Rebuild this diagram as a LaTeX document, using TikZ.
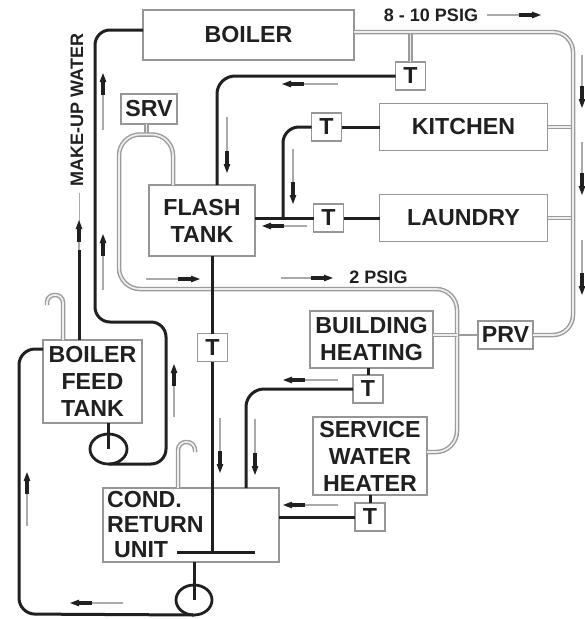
\documentclass[tikz,border=0pt]{standalone}
\usepackage{fontspec}
\usepackage{tikz}
\usepackage{xcolor}
\setmainfont{Liberation Sans}
\usetikzlibrary{shapes.geometric, arrows.meta, positioning}
\definecolor{cInk}{RGB}{32,32,32}
\definecolor{cEdge}{RGB}{150,150,150}
\definecolor{cSteam}{RGB}{155,155,155}
\definecolor{cCore}{RGB}{238,238,238}
\definecolor{cFlow}{RGB}{170,170,170}
\tikzset{
	unitbox/.style={rectangle, draw=cEdge, line width=1.4pt, fill=white, inner sep=0pt, outer sep=0pt, align=center, text=cInk},
	tbox/.style   ={unitbox, minimum width=30pt, minimum height=28pt},
	pumpc/.style  ={ellipse, draw=cInk, line width=2.8pt, inner sep=0pt, outer sep=0pt},
	% pipe styles
	water/.style  ={draw=cInk, line width=3pt},
	steam/.style  ={draw=cSteam, double=cCore, double distance=1.7pt, line width=1.4pt},
	flowback/.style={draw=cFlow, line width=1.2pt},
	flow/.style   ={flowback, -{Rectangle[length=13pt, width=4pt, color=cInk]Stealth[length=9pt, width=6.5pt, inset=0pt, color=cInk]}},
	plabel/.style ={text=cInk, font=\fontsize{18}{20}\selectfont\bfseries},
}
\begin{document}
\begin{tikzpicture}[x=1pt, y=-1pt, every node/.style={font=\fontsize{23.2}{27}\selectfont\bfseries}]
			\useasboundingbox (0,0) rectangle (585,619);
			\node[unitbox, minimum width=211pt, minimum height=50pt] (boiler) at (248.5,35) {BOILER};
			\node[unitbox, minimum width=56pt, minimum height=30pt] (srv) at (149,109) {SRV};
			\node[unitbox, minimum width=106pt, minimum height=71pt] (flash) at (202,220.5) {FLASH\\TANK};
			\node[tbox] (ttop) at (410.5,76) {T};
			\node[tbox] (tkitchen) at (326.5,127) {T};
			\node[unitbox, right=38pt of tkitchen, minimum width=168pt, minimum height=47pt] (kitchen) {KITCHEN};
			\node[tbox] (tlaundry) at (328.5,218) {T};
			\node[unitbox, right=36pt of tlaundry, minimum width=168pt, minimum height=47pt] (laundry) {LAUNDRY};
			\node[unitbox, minimum width=123pt, minimum height=57pt] (building) at (371.5,339.5) {BUILDING\\HEATING};
			\node[tbox, below=7pt of building, xshift=-3.5pt] (tbuilding) {T};
			\node[unitbox, minimum width=114pt, minimum height=78pt] (service) at (370,456) {SERVICE\\WATER\\HEATER};
			\node[tbox, below=8pt of service] (tservice) {T};
			\node[unitbox, minimum width=55pt, minimum height=28pt] (prv) at (505.5,335) {PRV};
			\node[tbox] (tmain) at (212.5,347.5) {T};
			\node[unitbox, minimum width=99pt, minimum height=83pt] (feed) at (92.5,381.5) {BOILER\\FEED\\TANK};
			\node[unitbox, minimum width=176pt, minimum height=74pt, text width=168pt, align=left, font=\fontsize{23.2}{25}\selectfont\bfseries] (cond) at (191,525) {COND.\\RETURN\\\hspace*{7pt}UNIT};
			\node[pumpc, minimum width=37pt, minimum height=30pt] (pumpf) at (108.5,449) {};
			\node[pumpc, minimum width=36pt, minimum height=30pt] (pumpc) at (194,600) {};
			\node[plabel] (hp) at (431,15) {8 - 10 PSIG};
			\node[plabel] (lp) at (378.5,277) {2 PSIG};
			\node[plabel, rotate=90] (mu) at (77,110) {MAKE-UP WATER};
			\coordinate (mw) at (79.5,250);
			\coordinate (cross) at (457,335);
			% steam and vents
			\draw[steam] (ttop.north) -- (ttop.north |- 0,32);
			\draw[steam] (kitchen.east) -- (573,127); \draw[steam] (laundry.east) -- (573,218);
			\draw[steam, rounded corners=20pt] (354,32) -- (573,32) -- (573,335) -- (prv.east);
			\draw[cSteam, line width=2pt] (prv.west) -- (cross);
			\draw[steam] (srv.south -| 146.5,0) -- (146.5,134);
			\draw[steam, rounded corners=21pt] (173,185) -- (173,134.5) -- (119,134.5) -- (119,289) -- (457,289) -- (457,452) -- (service.east |- 0,452);
			\draw[steam] (building.east |- cross) -- (cross);
			\draw[steam, rounded corners=7.5pt] (63,340) -- (63,295) -- (47,295) -- (47,305);
			\draw[steam, rounded corners=8pt] (178,488) -- (178,442) -- (195,442) -- (195,452);
			% water and condensate
			\draw[water, rounded corners=15pt] (boiler.west |- 0,30) -- (95,30) -- (95,322) -- (166,322) -- (166,464) -- (pumpf.south);
			\draw[water] (mw) -- (mw |- feed.north);
			\draw[water, rounded corners=16pt] (feed.west |- 0,349) -- (19,349) -- (19,614) -- (pumpc.south);
			\draw[water] (feed.south -| pumpf) -- (pumpf.center); \draw[water] (cond.south -| pumpc) -- (pumpc.center);
			\draw[water, rounded corners=18pt] (ttop.west) -- (217,76) -- (217,185);
			\draw[water, rounded corners=16pt] (tkitchen.west) -- (283,127) -- (283,218);
			\draw[water] (tkitchen.east) -- (kitchen.west); \draw[water] (tlaundry.east) -- (laundry.west);
			\draw[water] (flash.east |- tlaundry) -- (tlaundry.west);
			\draw[water] (flash.south -| tmain) -- (tmain.north);
			\draw[water] (tmain.south) -- (212.5,552); \draw[water] (177,552) -- (255,552);
			\draw[water] (building.south -| tbuilding) -- (tbuilding.north); \draw[water] (service.south -| tservice) -- (tservice.north);
			\draw[water, rounded corners=18pt] (tbuilding.west) -- (246,389) -- (246,488);
			\draw[water] (tservice.west) -- (tservice.west -| cond.east);
			% flow marks
			\draw[flowback] (mw) -- ++(0,-57);
			\foreach \n/\x/\y/\dx/\dy in {a/103/130/0/-57, b/103/290/0/-56, c/79/250/0/-30, d/227/117/0/56, e/293/149/0/55,
				f/338/84/-56/0, g/307/226/-45/0, h/146/279/54/0, i/281/278/52/0, j/487/15/54/0,
				k/582/55/0/53, l/582/142/0/53, m/582/240/0/55, n/174/417/0/-53, o/220/418/0/55,
				p/255/419/0/56, q/27/526/0/-54, r/123/603/-53/0, s/338/380/-55/0, t/338/505/-55/0} {
				\coordinate (fl\n) at (\x,\y);
				\draw[flow] (fl\n) -- ++(\dx,\dy);
			}
		\end{tikzpicture}
\end{document}
